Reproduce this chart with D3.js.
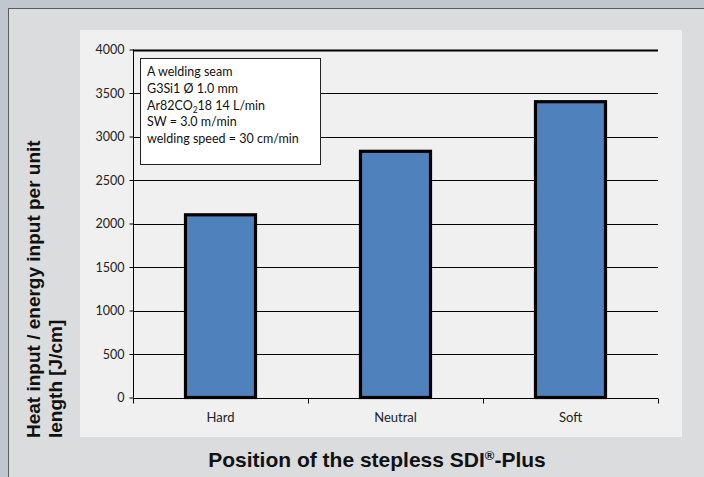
<!DOCTYPE html>
<html><head><meta charset="utf-8">
<script src="https://cdn.jsdelivr.net/npm/d3@7"></script>
<style>body{margin:0;padding:0;overflow:hidden;background:#c0c7cf}</style>
</head><body>
<script>
const categories = ["Hard", "Neutral", "Soft"];
const values = [2100, 2830, 3400];
const yTicks = [0, 500, 1000, 1500, 2000, 2500, 3000, 3500, 4000];
const infoLines = ["A welding seam", "G3Si1 Ø 1.0 mm", "Ar82CO|2|18 14 L/min", "SW = 3.0 m/min", "welding speed = 30 cm/min"];
const yTitle = ["Heat input / energy input per unit", "length [J/cm]"];
const xTitle = "Position of the stepless SDI";

const W = 704, H = 477;
const svg = d3.select("body").append("svg").attr("width", W).attr("height", H);
svg.append("rect").attr("x", 0).attr("y", 0).attr("width", W).attr("height", H).attr("fill", "#c0c7cf");
svg.append("rect").attr("x", 8.5).attr("y", 8.5).attr("width", W + 10).attr("height", H + 10)
  .attr("fill", "#dbdcde").attr("stroke", "#5a5d60").attr("stroke-width", 1);
svg.append("rect").attr("x", 80).attr("y", 30).attr("width", 602).attr("height", 407).attr("fill", "#eff0ef");

const x = d3.scaleBand().domain(categories).range([133, 658]).paddingInner(0.6).paddingOuter(0.3);
const xb = d3.scaleBand().domain(categories).range([133, 658]);
const y = d3.scaleLinear().domain([0, 4000]).range([397.5, 49.5]);

const font = "Lato, 'Open Sans', sans-serif";
const bold = "'Liberation Sans', Arial, sans-serif";

// gridlines
svg.append("g").selectAll("line").data(yTicks.filter(t => t > 0)).join("line")
  .attr("x1", 133).attr("x2", 658).attr("y1", d => Math.round(y(d)) + 0.5).attr("y2", d => Math.round(y(d)) + 0.5)
  .attr("stroke", "#000").attr("stroke-width", d => d === 4000 ? 2.2 : 1);

// y axis
const ya = svg.append("g").attr("transform", "translate(133.5,0)")
  .call(d3.axisLeft(y).tickValues(yTicks).tickFormat(d3.format("d")).tickSize(4).tickPadding(5));
ya.select(".domain").attr("d", `M0,${y(4000)}V${y(0)}`).attr("stroke", "#000");
ya.selectAll("text").attr("font-family", font).attr("font-size", 12.5).attr("fill", "#222");

// x axis
const xa = svg.append("g").attr("transform", `translate(0,${Math.round(y(0)) + 0.5})`);
xa.append("line").attr("x1", 133).attr("x2", 658).attr("stroke", "#000");
xa.selectAll(".tk").data([133, ...categories.map(c => xb(c) + xb.bandwidth())]).join("line")
  .attr("x1", d => d + 0.5).attr("x2", d => d + 0.5).attr("y1", 0).attr("y2", 5).attr("stroke", "#000");
xa.selectAll("text").data(categories).join("text")
  .attr("x", d => xb(d) + xb.bandwidth() / 2).attr("y", 23)
  .attr("text-anchor", "middle").attr("font-family", font).attr("font-size", 13).attr("fill", "#222").text(d => d);

// bars
svg.append("g").selectAll("rect").data(values).join("rect")
  .attr("x", (d, i) => x(categories[i])).attr("width", x.bandwidth())
  .attr("y", d => y(d)).attr("height", d => y(0) - y(d))
  .attr("fill", "#4f81bd").attr("stroke", "#000").attr("stroke-width", 3.2);

// info box
svg.append("rect").attr("x", 140.5).attr("y", 58.5).attr("width", 180).attr("height", 106)
  .attr("fill", "#fff").attr("stroke", "#222").attr("stroke-width", 1);
const tb = svg.append("g");
infoLines.forEach((ln, i) => {
  const t = tb.append("text").attr("x", 147).attr("y", 76 + i * 16.8)
    .attr("font-family", font).attr("font-size", 12.5).attr("fill", "#111");
  const parts = ln.split("|");
  parts.forEach((p, j) => {
    const ts = t.append("tspan").text(p);
    if (j === 1) ts.attr("font-size", 8.5).attr("dy", 3);
    if (j === 2) ts.attr("dy", -3);
  });
});

// y title
yTitle.forEach((ln, i) => {
  svg.append("text").attr("transform", `translate(${40 + i * 22},438) rotate(-90)`)
    .attr("font-family", bold).attr("font-weight", "bold").attr("font-size", 19).attr("fill", "#111")
    .text(ln);
});

// x title
const xt = svg.append("text").attr("x", 377).attr("y", 467).attr("text-anchor", "middle")
  .attr("font-family", bold).attr("font-weight", "bold").attr("font-size", 21).attr("fill", "#111");
xt.append("tspan").text(xTitle);
xt.append("tspan").text("®").attr("font-size", 13).attr("dy", -7);
xt.append("tspan").text("-Plus").attr("dy", 7);
</script>
</body></html>
